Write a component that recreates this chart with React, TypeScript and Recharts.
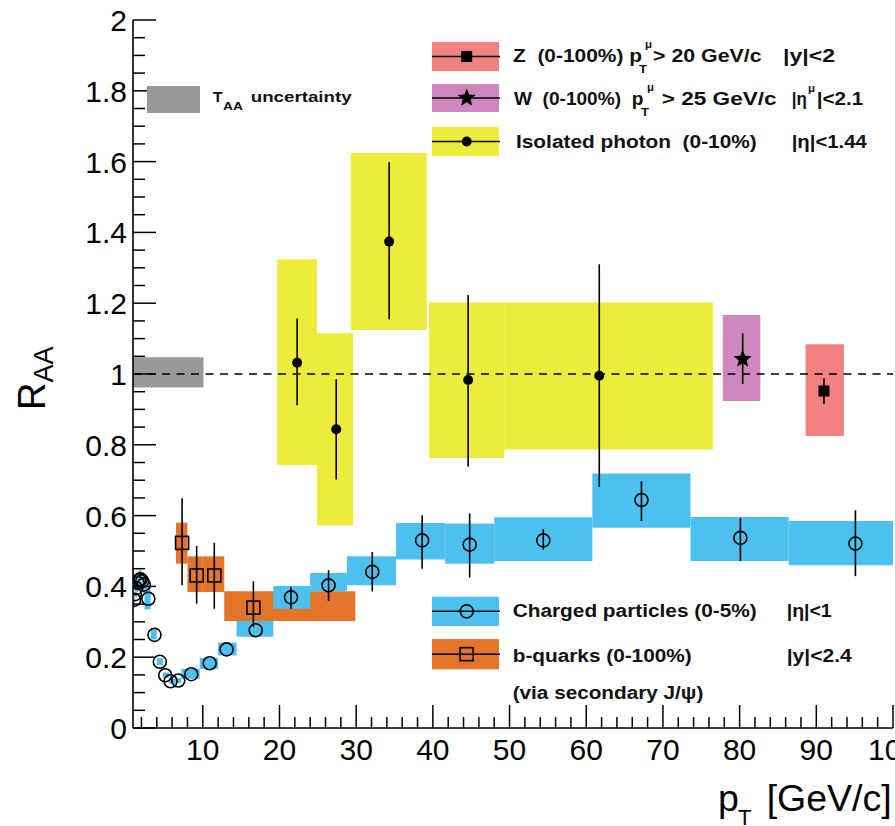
import React from 'react';
import { ComposedChart, XAxis, YAxis, Scatter, ReferenceArea, ReferenceLine } from 'recharts';

const FONT = '"Liberation Sans", Arial, Helvetica, sans-serif';

const YELLOW = '#EDEB3B';
const CYAN = '#4EC0EE';
const ORANGE = '#E2752A';
const PINK = '#F38181';
const PURPLE = '#CF88BF';
const GREY = '#999999';

// axis ticks (minor every 2 GeV / 0.05, labels on the majors)
const X_TICKS = Array.from({ length: 50 }, (_, i) => (i + 1) * 2);
const Y_TICKS = Array.from({ length: 41 }, (_, i) => (i * 5) / 100);
const X_LABELS = [10, 20, 30, 40, 50, 60, 70, 80, 90, 100];
const Y_LABELS = ['0', '0.2', '0.4', '0.6', '0.8', '1', '1.2', '1.4', '1.6', '1.8', '2'];

// charged particles (0-5%)
const CH_PT = [1.05, 1.15, 1.3, 1.5, 1.7, 1.9, 2.1, 2.3, 2.9, 3.7, 4.4, 5.1, 5.8, 6.8, 8.5, 10.9, 13.1, 16.9, 21.5, 26.4, 32.1, 38.6, 44.8, 54.4, 67.2, 80.1, 95.1];
const CH_RAA = [0.362, 0.378, 0.395, 0.41, 0.418, 0.42, 0.415, 0.405, 0.365, 0.263, 0.187, 0.149, 0.132, 0.134, 0.152, 0.183, 0.222, 0.276, 0.369, 0.403, 0.441, 0.53, 0.518, 0.53, 0.644, 0.537, 0.521];
const CH_STAT = [
  [21.5, 0.337, 0.398],
  [26.4, 0.359, 0.446],
  [32.1, 0.386, 0.497],
  [38.6, 0.45, 0.601],
  [44.8, 0.425, 0.606],
  [54.4, 0.504, 0.562],
  [67.2, 0.585, 0.697],
  [80.1, 0.472, 0.593],
  [95.1, 0.429, 0.615],
];
const CH_SYS = [
  [1.0, 1.1, 0.34, 0.385], [1.1, 1.2, 0.355, 0.4], [1.2, 1.4, 0.37, 0.42], [1.4, 1.6, 0.385, 0.435],
  [1.6, 1.8, 0.392, 0.445], [1.8, 2.0, 0.393, 0.447], [2.0, 2.2, 0.39, 0.44], [2.2, 2.4, 0.38, 0.43],
  [2.4, 3.2, 0.335, 0.4], [3.2, 4.0, 0.25, 0.277], [4.0, 4.8, 0.178, 0.197], [4.8, 5.6, 0.142, 0.157],
  [5.6, 6.4, 0.125, 0.139], [6.4, 7.2, 0.127, 0.141], [7.2, 9.6, 0.139, 0.167], [9.6, 12.0, 0.167, 0.198],
  [12.0, 14.4, 0.205, 0.241], [14.4, 19.2, 0.258, 0.302], [19.2, 24.0, 0.337, 0.401], [24.0, 28.8, 0.386, 0.438],
  [28.8, 35.2, 0.403, 0.485], [35.2, 41.6, 0.476, 0.579], [41.6, 48.0, 0.464, 0.578], [48.0, 60.8, 0.472, 0.595],
  [60.8, 73.6, 0.566, 0.719], [73.6, 86.4, 0.472, 0.596], [86.4, 103.6, 0.46, 0.585],
];

// isolated photons (0-10%)
const PH_PT = [22.3, 27.4, 34.3, 44.6, 61.7];
const PH_RAA = [1.032, 0.844, 1.374, 0.983, 0.995];
const PH_STAT = [[0.912, 1.157], [0.702, 0.985], [1.155, 1.598], [0.738, 1.223], [0.681, 1.31]];
const PH_SYS = [[19.7, 24.9, 0.743, 1.324], [24.9, 29.6, 0.573, 1.115], [29.3, 39.2, 1.124, 1.624], [39.5, 49.3, 0.763, 1.202], [49.3, 76.5, 0.787, 1.202]];

// b-quarks via secondary J/psi (0-100%)
const BQ_PT = [7.3, 9.2, 11.5, 16.6];
const BQ_RAA = [0.523, 0.431, 0.431, 0.34];
const BQ_STAT = [[0.403, 0.649], [0.351, 0.514], [0.337, 0.523], [0.285, 0.414]];
const BQ_SYS = [[6.5, 8.0, 0.464, 0.58], [8.0, 10.0, 0.384, 0.485], [10.0, 12.8, 0.384, 0.485], [12.8, 29.9, 0.302, 0.386]];

// W and Z (0-100%)
const W_PT = [80.4];
const W_RAA = [1.042];
const W_STAT = [[0.972, 1.115]];
const W_SYS = [[77.8, 82.7, 0.924, 1.167]];
const Z_PT = [91.0];
const Z_RAA = [0.952];
const Z_STAT = [[0.915, 0.988]];
const Z_SYS = [[88.6, 93.6, 0.825, 1.084]];

// T_AA normalisation band
const TAA_BOX = [0.9, 10.1, 0.962, 1.047];

const AXIS_LINE = { stroke: '#000', strokeWidth: 1.6 };

const isMajorX = (v: number) => v % 10 === 0;
const isMajorY = (v: number) => Math.abs(v * 5 - Math.round(v * 5)) < 1e-6;

function BottomTick(p: any) {
  const v = p.payload.value;
  const major = isMajorX(v);
  return (
    <g>
      <line x1={p.x} x2={p.x} y1={p.y} y2={p.y - (major ? 23 : 11)} stroke="#000" strokeWidth={1.5} />
      {major && X_LABELS.includes(v) && (
        <text x={p.x} y={p.y + 32} textAnchor="middle" fontSize={30} fontFamily={FONT} fill="#000">
          {v}
        </text>
      )}
    </g>
  );
}

function TopTick(p: any) {
  const major = isMajorX(p.payload.value);
  return <line x1={p.x} x2={p.x} y1={p.y} y2={p.y + (major ? 23 : 11)} stroke="#000" strokeWidth={1.5} />;
}

function LeftTick(p: any) {
  const v = p.payload.value;
  const major = isMajorY(v);
  return (
    <g>
      <line x1={p.x} x2={p.x + (major ? 23 : 12)} y1={p.y} y2={p.y} stroke="#000" strokeWidth={1.5} />
      {major && (
        <text x={p.x - 6} y={p.y + 11} textAnchor="end" fontSize={30} fontFamily={FONT} fill="#000">
          {Y_LABELS[Math.round(v * 5)]}
        </text>
      )}
    </g>
  );
}

function RightTick(p: any) {
  const major = isMajorY(p.payload.value);
  return <line x1={p.x} x2={p.x - (major ? 23 : 12)} y1={p.y} y2={p.y} stroke="#000" strokeWidth={1.5} />;
}

const starPath = (cx: number, cy: number, ro: number, ri: number) => {
  let d = '';
  for (let i = 0; i < 10; i++) {
    const r = i % 2 === 0 ? ro : ri;
    const a = -Math.PI / 2 + (i * Math.PI) / 5;
    d += (i === 0 ? 'M' : 'L') + (cx + r * Math.cos(a)).toFixed(2) + ',' + (cy + r * Math.sin(a)).toFixed(2);
  }
  return d + 'Z';
};

const OpenCircle = (p: any) => <circle cx={p.cx} cy={p.cy} r={6.5} fill="none" stroke="#000" strokeWidth={1.6} />;
const FullCircle = (p: any) => <circle cx={p.cx} cy={p.cy} r={5} fill="#000" />;
const OpenSquare = (p: any) => <rect x={p.cx - 6.5} y={p.cy - 6.5} width={13} height={13} fill="none" stroke="#000" strokeWidth={1.6} />;
const FullSquare = (p: any) => <rect x={p.cx - 5.5} y={p.cy - 5.5} width={11} height={11} fill="#000" />;
const Star = (p: any) => <path d={starPath(p.cx, p.cy, 9.5, 4.2)} fill="#000" />;

const pts = (xs: number[], ys: number[]) => xs.map((x, i) => ({ x, y: ys[i] }));

function boxes(list: number[][], fill: string, key: string) {
  return list.map((b, i) => (
    <ReferenceArea key={key + i} x1={b[0]} x2={b[1]} y1={b[2]} y2={b[3]} fill={fill} fillOpacity={1} stroke="none" ifOverflow="hidden" />
  ));
}

function bars(xs: number[], errs: number[][], key: string) {
  return xs.map((x, i) => (
    <ReferenceLine key={key + i} segment={[{ x, y: errs[i][0] }, { x, y: errs[i][1] }]} stroke="#000" strokeWidth={1.6} />
  ));
}

function Txt({ x, y, w, size = 17.5, children }: any) {
  return (
    <text x={x} y={y} fontSize={size} fontWeight={700} fontFamily={FONT} fill="#111" textLength={w} lengthAdjust="spacingAndGlyphs" style={{ whiteSpace: 'pre' }}>
      {children}
    </text>
  );
}

function LegendBox({ y, h, fill, marker }: any) {
  const cy = y + h / 2;
  return (
    <g>
      <rect x={432} y={y} width={67} height={h} fill={fill} />
      <line x1={432} x2={500} y1={cy} y2={cy} stroke="#000" strokeWidth={1.5} />
      {marker({ cx: 466.7, cy })}
    </g>
  );
}

function Overlay() {
  return (
    <svg width={895} height={826} style={{ position: 'absolute', left: 0, top: 0, pointerEvents: 'none' }}>
      {/* T_AA */}
      <rect x={147} y={86} width={53} height={27} fill={GREY} />
      <Txt x={212.7} y={102} w={10} size={14.5}>T</Txt>
      <Txt x={223} y={110} w={20} size={10.5}>AA</Txt>
      <Txt x={250.7} y={102} w={101} size={14.5}>uncertainty</Txt>

      {/* Z */}
      <LegendBox y={42} h={29} fill={PINK} marker={FullSquare} />
      <Txt x={513} y={62} w={129}>{'Z  (0-100%) p'}</Txt>
      <Txt x={645} y={48} w={7} size={11}>μ</Txt>
      <Txt x={639} y={73} w={8} size={11}>T</Txt>
      <Txt x={653} y={62} w={108.7}>{'> 20 GeV/c'}</Txt>
      <Txt x={783} y={62} w={52}>{'|y|<2'}</Txt>

      {/* W */}
      <LegendBox y={84} h={28} fill={PURPLE} marker={Star} />
      <Txt x={514} y={105} w={129.3}>{'W  (0-100%)  p'}</Txt>
      <Txt x={647} y={91} w={7} size={11}>μ</Txt>
      <Txt x={641} y={116} w={8} size={11}>T</Txt>
      <Txt x={661.7} y={105} w={115}>{'> 25 GeV/c'}</Txt>
      <Txt x={791.7} y={105} w={15}>{'|η'}</Txt>
      <Txt x={808} y={92} w={7} size={11}>μ</Txt>
      <Txt x={816.7} y={105} w={46.6}>{'|<2.1'}</Txt>

      {/* photon */}
      <LegendBox y={127} h={29} fill={YELLOW} marker={FullCircle} />
      <Txt x={516} y={148.3} w={240.7}>{'Isolated photon  (0-10%)'}</Txt>
      <Txt x={791.7} y={148.3} w={75}>{'|η|<1.44'}</Txt>

      {/* charged */}
      <LegendBox y={596.7} h={29.3} fill={CYAN} marker={OpenCircle} />
      <Txt x={512.7} y={617.3} w={244}>{'Charged particles (0-5%)'}</Txt>
      <Txt x={786.7} y={617.3} w={45}>{'|η|<1'}</Txt>

      {/* b quarks */}
      <LegendBox y={639} h={30.3} fill={ORANGE} marker={OpenSquare} />
      <Txt x={512.7} y={661.7} w={179}>{'b-quarks (0-100%)'}</Txt>
      <Txt x={786.7} y={661.7} w={65}>{'|y|<2.4'}</Txt>
      <Txt x={512.7} y={699.3} w={190.6}>{'(via secondary J/ψ)'}</Txt>

      {/* axis titles */}
      <text transform="translate(45,410) rotate(-90)" fontFamily={FONT} fontSize={38} fill="#000">
        R<tspan fontSize={27} dy={8}>AA</tspan>
      </text>
      <text x={718} y={811} fontFamily={FONT} fontSize={37.5} fill="#000">p</text>
      <text x={738} y={825} fontFamily={FONT} fontSize={22} fill="#000">T</text>
      <text x={891.7} y={811} textAnchor="end" fontFamily={FONT} fontSize={37.5} fill="#000">[GeV/c]</text>
    </svg>
  );
}

export default function App() {
  const chStat = CH_STAT.map((s) => s[0]);
  const chErr = CH_STAT.map((s) => [s[1], s[2]]);
  return (
    <div style={{ position: 'absolute', left: 0, top: 0, width: 895, height: 826, background: '#fff', overflow: 'hidden' }}>
      <ComposedChart width={895} height={826} margin={{ top: 20, right: 2, bottom: 0, left: 0 }}>
        <XAxis type="number" dataKey="x" domain={[0.9, 100]} ticks={X_TICKS} interval={0} allowDataOverflow height={98}
          tickSize={0} tickMargin={0} tickLine={false} axisLine={AXIS_LINE} tick={BottomTick} />
        <XAxis xAxisId="top" orientation="top" type="number" dataKey="x" domain={[0.9, 100]} ticks={X_TICKS} interval={0}
          allowDataOverflow height={0} tickSize={0} tickMargin={0} tickLine={false} axisLine={AXIS_LINE} tick={TopTick} />
        <YAxis type="number" dataKey="y" domain={[0, 2]} ticks={Y_TICKS} interval={0} allowDataOverflow width={133}
          tickSize={0} tickMargin={0} tickLine={false} axisLine={AXIS_LINE} tick={LeftTick} />
        <YAxis yAxisId="right" orientation="right" type="number" dataKey="y" domain={[0, 2]} ticks={Y_TICKS} interval={0}
          allowDataOverflow width={0} tickSize={0} tickMargin={0} tickLine={false} axisLine={AXIS_LINE} tick={RightTick} />

        <ReferenceArea x1={TAA_BOX[0]} x2={TAA_BOX[1]} y1={TAA_BOX[2]} y2={TAA_BOX[3]} fill={GREY} fillOpacity={1} stroke="none" ifOverflow="hidden" />
        {boxes(PH_SYS, YELLOW, 'ph')}
        {boxes(W_SYS, PURPLE, 'w')}
        {boxes(Z_SYS, PINK, 'z')}
        {boxes(BQ_SYS, ORANGE, 'bq')}
        {boxes(CH_SYS, CYAN, 'ch')}

        <ReferenceLine y={1} stroke="#000" strokeWidth={1.5} strokeDasharray="8 6.5" />

        {bars(PH_PT, PH_STAT, 'phe')}
        {bars(W_PT, W_STAT, 'we')}
        {bars(Z_PT, Z_STAT, 'ze')}
        {bars(BQ_PT, BQ_STAT, 'bqe')}
        {bars(chStat, chErr, 'che')}

        <Scatter data={pts(CH_PT, CH_RAA)} dataKey="y" shape={OpenCircle} isAnimationActive={false} />
        <Scatter data={pts(BQ_PT, BQ_RAA)} dataKey="y" shape={OpenSquare} isAnimationActive={false} />
        <Scatter data={pts(PH_PT, PH_RAA)} dataKey="y" shape={FullCircle} isAnimationActive={false} />
        <Scatter data={pts(W_PT, W_RAA)} dataKey="y" shape={Star} isAnimationActive={false} />
        <Scatter data={pts(Z_PT, Z_RAA)} dataKey="y" shape={FullSquare} isAnimationActive={false} />
      </ComposedChart>
      <Overlay />
    </div>
  );
}
